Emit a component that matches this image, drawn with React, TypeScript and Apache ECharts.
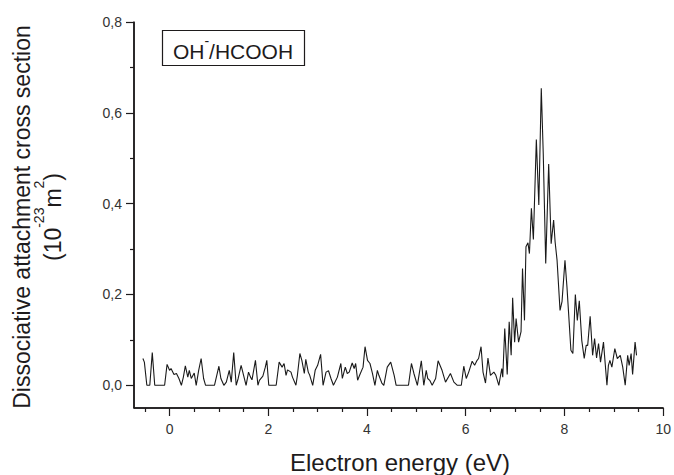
import React, { useEffect, useRef } from "react";
import * as echarts from "echarts";

// Electron energy (eV)
const energy = [
  -0.54, -0.51, -0.46, -0.4, -0.35, -0.3, -0.2, -0.1, -0.05, 0.0, 0.03, 0.09, 0.14, 0.19, 0.24, 0.28, 0.32, 0.37,
  0.4, 0.44, 0.5, 0.54, 0.59, 0.64, 0.69, 0.73, 0.81, 0.91, 1.0, 1.04, 1.1, 1.15, 1.21, 1.25, 1.3, 1.35, 1.39,
  1.45, 1.5, 1.55, 1.6, 1.64, 1.67, 1.74, 1.79, 1.82, 1.89, 1.94, 1.97, 2.01, 2.16, 2.22, 2.28, 2.32, 2.36, 2.39,
  2.46, 2.49, 2.56, 2.59, 2.64, 2.68, 2.73, 2.76, 2.81, 2.84, 2.9, 2.95, 3.0, 3.06, 3.11, 3.17, 3.22, 3.27, 3.32,
  3.4, 3.47, 3.5, 3.56, 3.6, 3.64, 3.7, 3.74, 3.77, 3.81, 3.85, 3.92, 3.96, 4.01, 4.06, 4.11, 4.16, 4.21, 4.24,
  4.3, 4.34, 4.41, 4.48, 4.55, 4.59, 4.84, 4.9, 4.95, 5.02, 5.1, 5.15, 5.2, 5.23, 5.27, 5.32, 5.39, 5.44, 5.52,
  5.59, 5.69, 5.76, 5.83, 5.91, 5.96, 6.01, 6.06, 6.13, 6.18, 6.23, 6.26, 6.31, 6.35, 6.4, 6.45, 6.5, 6.57, 6.61,
  6.67, 6.73, 6.75, 6.79, 6.84, 6.88, 6.92, 6.95, 6.99, 7.02, 7.07, 7.12, 7.15, 7.19, 7.22, 7.26, 7.29, 7.33,
  7.37, 7.43, 7.48, 7.53, 7.57, 7.62, 7.68, 7.73, 7.78, 7.81, 7.85, 7.91, 7.95, 8.01, 8.05, 8.08, 8.13, 8.17,
  8.22, 8.26, 8.3, 8.35, 8.4, 8.44, 8.47, 8.52, 8.57, 8.61, 8.65, 8.69, 8.73, 8.79, 8.86, 8.89, 8.92, 8.96, 9.02,
  9.07, 9.13, 9.18, 9.23, 9.28, 9.31, 9.35, 9.38, 9.43, 9.46,
];

// Dissociative attachment cross section (10^-23 m^2)
const crossSection = [
  0.059, 0.051, 0, 0, 0.072, 0, 0, 0, 0.046, 0.033, 0.037, 0.024, 0.026, 0.015, 0, 0.018, 0.043, 0.018,
  0.033, 0.015, 0.027, 0, 0.033, 0.059, 0.015, 0, 0, 0, 0.042, 0.015, 0, 0.007, 0.033, 0.007, 0.072, 0, 0.015,
  0.044, 0.022, 0, 0.029, 0.018, 0.012, 0.055, 0, 0.011, 0.02, 0.04, 0.055, 0, 0, 0.051, 0.04, 0.048, 0.022, 0.034,
  0.029, 0.018, 0, 0.022, 0.07, 0.055, 0.026, 0.057, 0.029, 0.022, 0, 0.033, 0.044, 0.068, 0, 0.029, 0.032, 0.015, 0,
  0.018, 0.048, 0.015, 0.04, 0.026, 0.029, 0.049, 0.037, 0.048, 0.011, 0.022, 0.04, 0.085, 0.055, 0.048, 0.026, 0, 0.033, 0.022,
  0.005, 0, 0.04, 0.051, 0.022, 0, 0, 0.048, 0.026, 0, 0.054, 0, 0.033, 0.015, 0.011, 0, 0.015, 0.054, 0.033,
  0.007, 0.026, 0.007, 0, 0, 0.042, 0.015, 0.029, 0.053, 0.044, 0.055, 0.059, 0.085, 0.029, 0.005, 0.06, 0.022, 0.029, 0.022,
  0, 0.037, 0.018, 0.125, 0.024, 0.14, 0.066, 0.193, 0.095, 0.147, 0.095, 0.118, 0.257, 0.143, 0.305, 0.314, 0.29, 0.39,
  0.321, 0.541, 0.397, 0.654, 0.51, 0.268, 0.487, 0.312, 0.364, 0.316, 0.275, 0.165, 0.184, 0.275, 0.217, 0.165, 0.077, 0.07,
  0.2, 0.143, 0.186, 0.099, 0.059, 0.088, 0.088, 0.152, 0.066, 0.103, 0.06, 0.092, 0.051, 0.095, 0, 0.044, 0.055, 0.04, 0.081,
  0.059, 0.066, 0.04, 0, 0.066, 0.044, 0.07, 0.024, 0.095, 0.066,
];

const xMajorTicks = [0, 2, 4, 6, 8, 10];
const xMinorTicks = [-0.5, 0.5, 1, 1.5, 2.5, 3, 3.5, 4.5, 5, 5.5, 6.5, 7, 7.5, 8.5, 9, 9.5];
const yMajorTicks = [0, 0.2, 0.4, 0.6, 0.8];
const yMinorTicks = [0.1, 0.3, 0.5, 0.7];
const X_MIN = -0.72;
const X_MAX = 10;
const Y_MIN = -0.05;
const Y_MAX = 0.8;

const FONT = "Liberation Sans, Arial, sans-serif";
const INK = "#1e1b1c";

export default function App() {
  const ref = useRef<HTMLDivElement>(null);
  useEffect(() => {
    if (!ref.current) return;
    const chart = echarts.init(ref.current, undefined, { renderer: "svg" });
    const data = energy.map((e, i) => [e, crossSection[i]]);
    const mkLine = () => ({ show: true, onZero: false, lineStyle: { color: INK, width: 1.5 } });
    const tickStyle = { color: INK, width: 1.2 };
    chart.setOption({
      animation: false,
      backgroundColor: "#ffffff",
      grid: { left: 134, right: 9, top: 22, bottom: 67 },
      xAxis: [
        {
          type: "value",
          min: X_MIN,
          max: X_MAX,
          position: "bottom",
          axisLine: mkLine(),
          splitLine: { show: false },
          axisTick: { show: true, customValues: xMajorTicks, length: 8, lineStyle: tickStyle },
          axisLabel: {
            customValues: xMajorTicks,
            margin: 14,
            fontFamily: FONT,
            fontSize: 14,
            color: "#333",
            formatter: (v: number) => String(v),
          },
        },
        {
          type: "value",
          min: X_MIN,
          max: X_MAX,
          position: "bottom",
          offset: 0,
          axisLine: { show: false, onZero: false },
          splitLine: { show: false },
          axisTick: { show: true, customValues: xMinorTicks, length: 4, lineStyle: tickStyle },
          axisLabel: { show: false },
        },
      ],
      yAxis: [
        {
          type: "value",
          min: Y_MIN,
          max: Y_MAX,
          position: "left",
          axisLine: mkLine(),
          splitLine: { show: false },
          axisTick: { show: true, customValues: yMajorTicks, length: 8, lineStyle: tickStyle },
          axisLabel: {
            customValues: yMajorTicks,
            margin: 12,
            fontFamily: FONT,
            fontSize: 14,
            color: "#333",
            formatter: (v: number) => v.toFixed(1).replace(".", ","),
          },
        },
        {
          type: "value",
          min: Y_MIN,
          max: Y_MAX,
          position: "left",
          offset: 0,
          axisLine: { show: false, onZero: false },
          splitLine: { show: false },
          axisTick: { show: true, customValues: yMinorTicks, length: 4, lineStyle: tickStyle },
          axisLabel: { show: false },
        },
      ],
      series: [
        {
          type: "line",
          data,
          xAxisIndex: 0,
          yAxisIndex: 0,
          showSymbol: false,
          symbol: "none",
          lineStyle: { color: "#1a1a1a", width: 1.1 },
        },
      ],
    });

    const p0 = chart.convertToPixel({ xAxisIndex: 0, yAxisIndex: 0 }, [X_MIN, Y_MIN]) as number[];
    const p1 = chart.convertToPixel({ xAxisIndex: 0, yAxisIndex: 0 }, [X_MAX, Y_MAX]) as number[];
    const lx = p0[0];
    const by = p0[1];
    const rx = p1[0];
    const ty = p1[1];

    chart.setOption({
      graphic: [
        {
          type: "line",
          shape: { x1: lx, y1: ty, x2: lx, y2: by },
          style: { stroke: INK, lineWidth: 1.5 },
          z: 5,
        },
        {
          type: "line",
          shape: { x1: lx, y1: by, x2: rx, y2: by },
          style: { stroke: INK, lineWidth: 1.5 },
          z: 5,
        },
        {
          type: "rect",
          shape: { x: 162.5, y: 30.5, width: 142, height: 35 },
          style: { fill: "#ffffff", stroke: INK, lineWidth: 1.2 },
          z: 10,
        },
        {
          type: "text",
          x: 233,
          y: 48,
          z: 11,
          style: {
            text: "{n|OH}{s|-}{n|/HCOOH}",
            align: "center",
            verticalAlign: "middle",
            rich: {
              n: { fontFamily: FONT, fontSize: 21, fill: INK, lineHeight: 28, verticalAlign: "bottom" },
              s: { fontFamily: FONT, fontSize: 14, fill: INK, lineHeight: 12, verticalAlign: "top" },
            },
          },
        },
        {
          type: "text",
          x: 400,
          y: 462,
          style: {
            text: "Electron energy (eV)",
            fontFamily: FONT,
            fontSize: 24,
            fill: INK,
            align: "center",
            verticalAlign: "middle",
          },
        },
        {
          type: "text",
          x: 22,
          y: 217,
          rotation: Math.PI / 2,
          style: {
            text: "Dissociative attachment cross section",
            fontFamily: FONT,
            fontSize: 23,
            fill: INK,
            align: "center",
            verticalAlign: "middle",
          },
        },
        {
          type: "text",
          x: 48,
          y: 217,
          rotation: Math.PI / 2,
          style: {
            text: "{n|(10}{s|-23}{n|m}{s|2}{n|)}",
            align: "center",
            verticalAlign: "middle",
            rich: {
              n: { fontFamily: FONT, fontSize: 23, fill: INK, lineHeight: 32, verticalAlign: "bottom" },
              s: { fontFamily: FONT, fontSize: 14, fill: INK, lineHeight: 12, verticalAlign: "top" },
            },
          },
        },
      ],
    });
    return () => chart.dispose();
  }, []);
  return (
    <div
      ref={ref}
      style={{ position: "fixed", left: 0, top: 0, width: 674, height: 475, background: "#fff" }}
    />
  );
}
